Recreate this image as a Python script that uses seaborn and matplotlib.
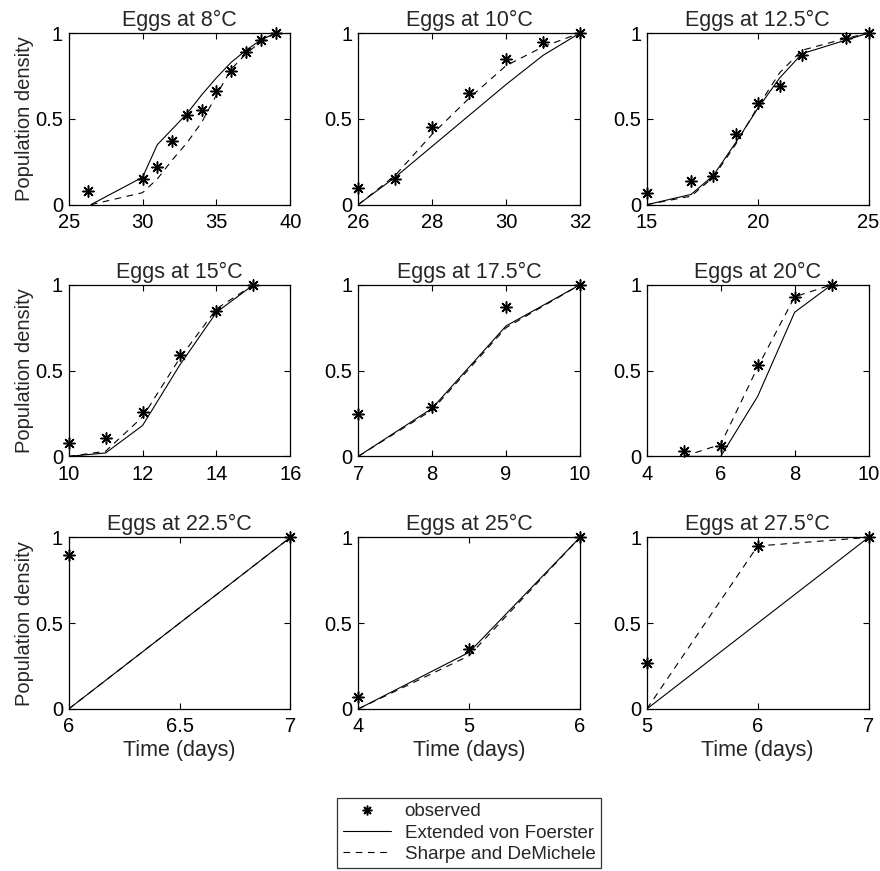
import numpy as np
import pandas as pd
import matplotlib
matplotlib.use('Agg')
import matplotlib.pyplot as plt
from matplotlib.lines import Line2D
import seaborn as sb

# panel titles (temperature) and x ticks
temps = ['8', '10', '12.5', '15', '17.5', '20', '22.5', '25', '27.5']
xticks_all = [[25, 30, 35, 40], [26, 28, 30, 32], [15, 20, 25],
              [10, 12, 14, 16], [7, 8, 9, 10], [4, 6, 8, 10],
              [6, 6.5, 7], [4, 5, 6], [5, 6, 7]]

# observed points (time, density)
obs_t = [[26.3, 30, 31, 32, 33, 34, 35, 36, 37, 38, 39],
         [26, 27, 28, 29, 30, 31, 32],
         [15, 17, 18, 19, 20, 21, 22, 24, 25],
         [10, 11, 12, 13, 14, 15],
         [7, 8, 9, 10],
         [5, 6, 7, 8, 9],
         [6, 7],
         [4, 5, 6],
         [5, 6, 7]]
obs_y = [[0.08, 0.15, 0.22, 0.37, 0.52, 0.55, 0.66, 0.78, 0.89, 0.96, 1.0],
         [0.10, 0.15, 0.45, 0.65, 0.85, 0.95, 1.0],
         [0.07, 0.14, 0.17, 0.41, 0.59, 0.69, 0.87, 0.97, 1.0],
         [0.08, 0.11, 0.26, 0.59, 0.85, 1.0],
         [0.25, 0.29, 0.87, 1.0],
         [0.03, 0.06, 0.53, 0.93, 1.0],
         [0.90, 1.0],
         [0.07, 0.35, 1.0],
         [0.27, 0.95, 1.0]]

# Extended von Foerster model
vf_t = [[26.5, 30, 31, 32, 33, 34, 35, 36, 37, 38, 39],
        [26, 27, 28, 29, 30, 31, 32],
        [15, 17, 18, 19, 20, 21, 22, 24, 25],
        [10, 11, 12, 13, 14, 15],
        [7, 8, 9, 10],
        [5, 6, 7, 8, 9],
        [6, 7],
        [4, 5, 6],
        [5, 6, 7]]
vf_y = [[0.0, 0.16, 0.35, 0.44, 0.53, 0.64, 0.74, 0.83, 0.90, 0.96, 1.0],
        [0.0, 0.16, 0.34, 0.52, 0.70, 0.87, 1.0],
        [0.0, 0.06, 0.17, 0.36, 0.56, 0.74, 0.88, 0.96, 1.0],
        [0.0, 0.02, 0.18, 0.53, 0.84, 1.0],
        [0.0, 0.28, 0.76, 1.0],
        [0.0, 0.0, 0.35, 0.84, 1.0],
        [0.0, 1.0],
        [0.0, 0.33, 1.0],
        [0.0, 0.5, 1.0]]

# Sharpe and DeMichele model
sd_t = vf_t
sd_y = [[0.0, 0.07, 0.15, 0.26, 0.36, 0.48, 0.64, 0.79, 0.88, 0.95, 1.0],
        [0.0, 0.17, 0.41, 0.62, 0.81, 0.92, 1.0],
        [0.0, 0.05, 0.16, 0.35, 0.57, 0.77, 0.90, 0.97, 1.0],
        [0.0, 0.03, 0.23, 0.57, 0.86, 1.0],
        [0.0, 0.27, 0.75, 1.0],
        [0.0, 0.07, 0.52, 0.93, 1.0],
        [0.0, 1.0],
        [0.0, 0.31, 1.0],
        [0.0, 0.95, 1.0]]

model_names = ['Extended von Foerster', 'Sharpe and DeMichele']

sb.set_style('ticks')
plt.rcParams['font.family'] = ['Liberation Sans', 'DejaVu Sans']
plt.rcParams['xtick.direction'] = 'in'
plt.rcParams['ytick.direction'] = 'in'

fig = plt.figure(figsize=(8.8, 8.71), dpi=100)

lefts = [0.078, 0.407, 0.735]
bottoms = [0.765, 0.476, 0.186]
w, h = 0.252, 0.197

ls_dashes = {model_names[0]: '', model_names[1]: (6, 5)}

for i in range(9):
    r, c = divmod(i, 3)
    ax = fig.add_axes([lefts[c], bottoms[r], w, h])
    df = pd.DataFrame({
        'time': list(vf_t[i]) + list(sd_t[i]),
        'density': list(vf_y[i]) + list(sd_y[i]),
        'model': [model_names[0]] * len(vf_t[i]) + [model_names[1]] * len(sd_t[i]),
    })
    sb.lineplot(data=df, x='time', y='density', style='model', dashes=ls_dashes,
                color='k', linewidth=0.8, estimator=None, sort=False,
                legend=False, ax=ax)
    sb.scatterplot(x=obs_t[i], y=obs_y[i], marker=(8, 2, 0), color='k',
                   s=65, linewidth=1.1, clip_on=False, zorder=5, ax=ax)
    xt = xticks_all[i]
    ax.set_xlim(xt[0], xt[-1])
    ax.set_ylim(0, 1)
    ax.set_xticks(xt)
    ax.set_xticklabels([('%g' % v) for v in xt])
    ax.set_yticks([0, 0.5, 1])
    ax.set_yticklabels(['0', '0.5', '1'])
    ax.tick_params(top=True, right=True, length=4, width=0.8,
                   labelsize=14.5, colors='k')
    ax.tick_params(axis='y', pad=4)
    ax.tick_params(axis='x', pad=6)
    for s in ax.spines.values():
        s.set_visible(True)
        s.set_linewidth(0.9)
        s.set_color('k')
    ax.set_title('Eggs at %s°C' % temps[i], fontsize=15.5, pad=5)
    ax.set_xlabel('Time (days)' if r == 2 else '', fontsize=15.5, labelpad=3)
    ax.set_ylabel('Population density' if c == 0 else '', fontsize=14.5, labelpad=1)

handles = [Line2D([], [], linestyle='none', marker=(8, 2, 0), color='k',
                  markersize=7, markeredgewidth=1.1),
           Line2D([], [], color='k', linewidth=0.8),
           Line2D([], [], color='k', linewidth=0.8, dashes=(6, 5))]
labels = ['observed'] + model_names
leg = fig.legend(handles, labels, loc='lower left', bbox_to_anchor=(0.383, 0.003),
                 frameon=True, fancybox=False, fontsize=13.5, handlelength=2.6,
                 handletextpad=0.7, borderpad=0.3, labelspacing=0.22,
                 borderaxespad=0)
leg.get_frame().set_edgecolor('k')
leg.get_frame().set_linewidth(0.9)

fig.savefig('out.png', dpi=100, facecolor='white')
